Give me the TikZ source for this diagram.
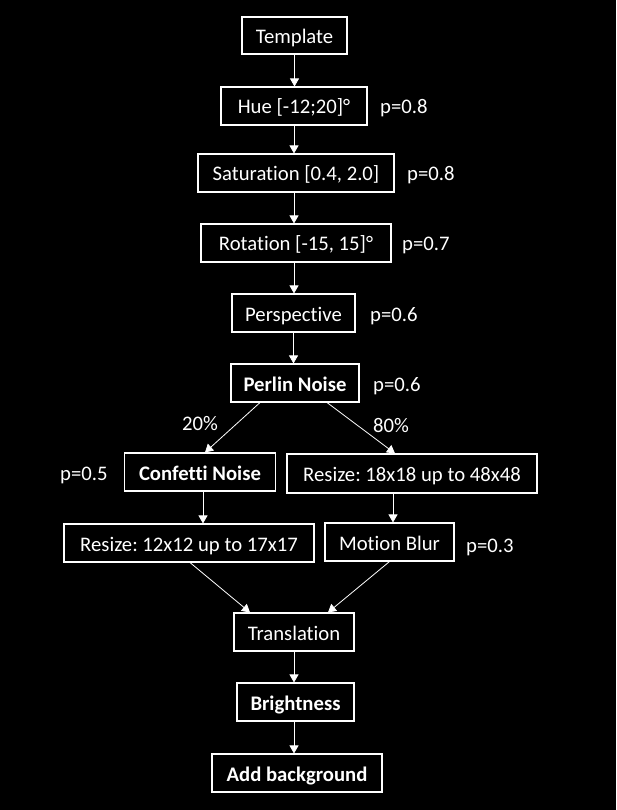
\documentclass[tikz,border=0pt]{standalone}
\usepackage{fontspec}
\setmainfont{Carlito}[Ligatures=NoCommon]
\usetikzlibrary{arrows.meta,calc}
\frenchspacing
\begin{document}
\begin{tikzpicture}[x=1pt,y=-1pt,
  box/.style={draw=white,line width=1.1pt,text=white,inner sep=0pt,minimum height=38pt,text height=16pt,text depth=0pt,font=\fontsize{20.7}{23}\selectfont},
  lbl/.style={text=white,inner sep=0pt,text height=16pt,text depth=0pt,font=\fontsize{20.7}{23}\selectfont},
  arr/.style={draw=white,line width=0.8pt,-{Triangle[length=8pt,width=9pt]}}]
\fill[black] (0,0) rectangle (616,810);
\useasboundingbox (0,0) rectangle (616,810);
\node[box,minimum width=105pt,minimum height=37pt] (tmpl) at (294.5,35.5) {Template};
\node[box,minimum width=146pt] (hue) at (294,106) {Hue [-12;20]°};
\node[box,minimum width=196pt] (sat) at (296,173) {Saturation [0.4, 2.0]};
\node[box,minimum width=190pt] (rot) at (296,243) {Rotation [-15, 15]°};
\node[box,minimum width=123pt] (persp) at (293.5,313) {Perspective};
\node[box,minimum width=128pt] (perlin) at (295,383) {\bfseries Perlin Noise};
\node[box,minimum width=151pt] (conf) at (200,472) {\bfseries Confetti Noise};
\node[box,minimum width=250pt,minimum height=39pt] (r18) at (412,473.5) {Resize: 18x18 up to 48x48};
\node[box,minimum width=250pt] (r12) at (189,543) {Resize: 12x12 up to 17x17};
\node[box,minimum width=129pt] (mb) at (389.5,542) {Motion Blur};
\node[box,minimum width=120pt] (trans) at (294,632) {Translation};
\node[box,minimum width=117pt] (bright) at (295.5,702) {\bfseries Brightness};
\node[box,minimum width=170pt] (addbg) at (297,773) {\bfseries Add background};

\node[lbl,anchor=west] (phue) at (380,106) {p=0.8};
\node[lbl,anchor=west] (psat) at (407,173) {p=0.8};
\node[lbl,anchor=west] (prot) at (402,243) {p=0.7};
\node[lbl,anchor=west] (ppersp) at (370,313) {p=0.6};
\node[lbl,anchor=west] (pperlin) at (373,383) {p=0.6};
\node[lbl,anchor=west] (pconf) at (60,472) {p=0.5};
\node[lbl,anchor=west] (pmb) at (466,544) {p=0.3};
\node[lbl] (l20) at (200,422) {20\%};
\node[lbl] (l80) at (391,424) {80\%};

\coordinate (c1) at ($(conf.south)+(3,0)$);
\coordinate (c2) at ($(r18.south)+(-19,0)$);
\draw[arr] (tmpl.south) -- (tmpl.south |- hue.north);
\draw[arr] (hue.south) -- (hue.south |- sat.north);
\draw[arr] (hue.south |- sat.south) -- (hue.south |- rot.north);
\draw[arr] (hue.south |- rot.south) -- (hue.south |- persp.north);
\draw[arr] (persp.south) -- (persp.south |- perlin.north);
\draw[arr] ($(perlin.south)+(-35,0)$) -- ($(conf.north)+(5,0)$);
\draw[arr] ($(perlin.south)+(32,0)$) -- ($(r18.north)+(-17,0)$);
\draw[arr] (c1) -- (c1 |- r12.north);
\draw[arr] (c2) -- (c2 |- mb.north);
\draw[arr] ($(r12.south)+(1,0)$) -- ($(trans.north)+(-44,0)$);
\draw[arr] (mb.south) -- ($(trans.north)+(34,0)$);
\draw[arr] (trans.south) -- (trans.south |- bright.north);
\draw[arr] (trans.south |- bright.south) -- (trans.south |- addbg.north);
\end{tikzpicture}
\end{document}
